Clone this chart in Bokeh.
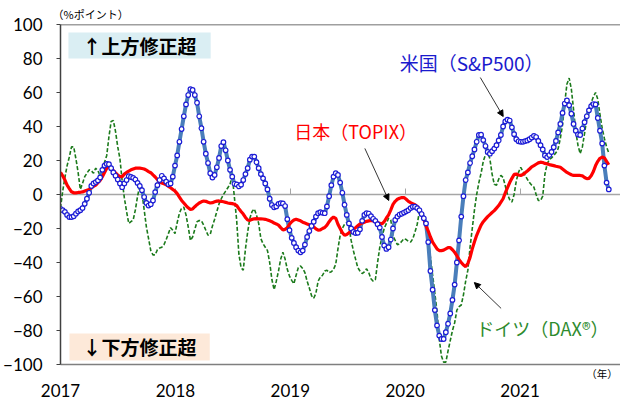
import pandas as pd
from bokeh.plotting import figure
from bokeh.models import (Range1d, FixedTicker, Span, BoxAnnotation, Label, Arrow,
                          NormalHead, LinearAxis, ColumnDataSource)
from bokeh.embed import file_html
from bokeh.resources import INLINE

# ---------------- data (weekly, from 2017-01-01) ----------------
start_date = "2017-01-01"
years = [2017, 2018, 2019, 2020, 2021]
y_ticks = [-100, -80, -60, -40, -20, 0, 20, 40, 60, 80, 100]

sp500 = [
    -8.4, -9.2, -10.2, -12, -13.3, -13.3, -12.8, -11.3, -10, -9.2,
    -8, -5.5, -2.5, 1, 5, 6.5, 7.3, 8.3, 10, 14.5,
    17, 18, 17.8, 15.5, 13, 11, 8.8, 6.5, 4.3, 6.5,
    8.5, 10.8, 10.3, 9.8, 8.8, 6.8, 5, 2.5, -1.5, -5,
    -6.5, -5.7, -3.5, 1.4, 5.5, 8.5, 11, 9.5, 7.5, 6,
    6.5, 10.5, 17, 23, 31, 38.5, 46, 53, 58.5, 62,
    61.5, 58.5, 54, 46, 39, 31, 24, 18.5, 12.5, 10,
    11.5, 16, 21.5, 28.5, 30.8, 26, 20, 14.5, 10.5, 6.3,
    5.9, 4.8, 5.8, 8.5, 12, 15.5, 20.5, 22.3, 22.3, 19,
    15.5, 12, 9.5, 6.5, 3, -2.5, -6.2, -7.5, -7, -5.5,
    -5.1, -5.3, -6.8, -14.5, -21, -25.5, -28.5, -31, -33, -34,
    -33, -29.5, -25, -21.5, -18.5, -16, -13, -11, -10.4, -10.8,
    -11, -7, -1, 5.5, 10.5, 12.5, 11.5, 7, 1, -6,
    -12, -17, -20, -22, -22.7, -22.5, -20.5, -15.5, -12, -11,
    -11.2, -12.8, -14.3, -15.5, -17.5, -19.5, -25, -30, -32, -31,
    -26.5, -20, -15, -13, -11.8, -11.3, -10.6, -9.9, -9.2, -8,
    -7.2, -7.2, -8, -9.2, -11.5, -14, -17, -28, -45, -56,
    -68, -77, -83, -85, -85, -81, -76, -70, -62, -53,
    -40, -27, -13, -1, 8.5, 13, 18.5, 22.5, 26.5, 31,
    35, 35.2, 32, 28.5, 25, 24, 25.5, 27, 29, 31.8,
    35, 40, 43, 44, 43.5, 39.5, 35.5, 32.5, 31.3, 31,
    31, 31.4, 31.8, 32.5, 33.5, 34.5, 33.8, 31.5, 29, 26.5,
    23, 22, 23.2, 25, 27.8, 31.5, 36.5, 41.5, 48, 53.5,
    55.3, 52.5, 47.5, 41.5, 37.5, 35.3, 35, 38.8, 42.5, 46,
    49.5, 52, 53.2, 53, 45, 37.5, 30, 17, 7, 3,
]

topix = [
    13, 11, 8.5, 5.5, 3.5, 1.6, 1, 1, 1.2, 1.3,
    1.5, 2, 2.5, 3, 4, 4.8, 5.5, 7, 8.3, 10.5,
    13, 15.5, 16.5, 15.2, 14, 12.6, 11.5, 10.5, 10.5, 12,
    13, 13.8, 14.5, 15, 15.5, 15.5, 15.5, 15.3, 15, 14.3,
    13.5, 12.8, 11.5, 10.3, 8.8, 7.3, 6.8, 6.3, 5.8, 4.8,
    4, 3, 2, 0.5, -1.5, -3.5, -5, -6.5, -7.8, -8.8,
    -8.5, -7.2, -6, -5, -4.3, -3.8, -4, -4.6, -5, -4.8,
    -4.3, -3.9, -3.8, -4, -4.3, -4.6, -5, -5.2, -5.4, -5.7,
    -6.5, -8.3, -10, -11.5, -13.5, -15, -15.2, -14.6, -14.3, -14.2,
    -14.3, -14.3, -14.4, -14.6, -15, -15.5, -16, -16.8, -17.3, -18,
    -19.5, -20.8, -20.5, -19.5, -17.5, -16, -15, -14.5, -15, -15.5,
    -16.3, -16.8, -17.3, -17.8, -18.2, -19, -20.2, -21, -20.8, -20,
    -19.4, -18, -16, -14.3, -13.3, -14, -17.5, -20, -22.5, -24,
    -23.5, -22.5, -21.4, -20.5, -19.5, -18.4, -17.3, -16.8, -16.3, -15.8,
    -15.5, -15.3, -15.5, -16, -16.5, -17, -17.3, -16, -13.8, -12,
    -9, -5.8, -4, -2.8, -2.2, -1.8, -1.8, -2.8, -4, -4.8,
    -5.5, -6, -7, -9, -11.5, -14.5, -18.5, -21.5, -25, -28,
    -30, -32, -33, -33, -32.7, -32, -31.3, -31.2, -32.5, -34,
    -36, -38.3, -40, -41.5, -42.4, -40.5, -37, -32, -27.8, -24,
    -21, -18, -16, -14.5, -13, -11.8, -10.6, -9.5, -8, -6.5,
    -4.5, -2.5, 1, 4, 7, 9.5, 11.8, 12, 11.5, 11.2,
    11.8, 12.8, 13.8, 15, 16.3, 17, 17.8, 18.6, 19, 18.8,
    18.3, 18, 17.6, 17.3, 17, 16.6, 16.3, 16, 15, 14,
    13, 12.3, 11.6, 11.2, 11.2, 11.3, 11.2, 11, 10, 9.3,
    9.5, 11, 13.5, 17, 19.5, 21.3, 22, 21.5, 19.5, 17.5,
]

dax = [
    -8, 2, 10, 17, 22, 28, 28, 21, 13, 3,
    6.5, 10.5, 12.5, 14.5, 14, 12.5, 15.5, 14, 11, 16,
    19, 23, 34, 43, 43.5, 37, 28, 21, 8, -2,
    -10, -17, -16, -15, -9, -1, 5, 1, -9, -19,
    -26, -33, -35.5, -35.5, -32.5, -31.5, -31, -29.5, -26.5, -23,
    -19.5, -21, -23, -16.5, -11, -8, -7.5, -12, -19, -27,
    -25, -20.5, -16, -15.3, -15.5, -18, -21, -24, -23.5, -18.5,
    -14.5, -10, -5.5, -2.5, 0, 2, 4, 6, 11, -2,
    -15, -35, -43, -44.5, -32, -22, -14, -10, -8.5, -12,
    -17, -26, -29, -31, -33, -40, -50, -56, -51, -45,
    -38, -34, -38, -44, -48, -50.5, -52.5, -47.5, -43, -42,
    -43.5, -46, -51, -55, -59.5, -61, -58, -51, -48.6, -47.5,
    -45, -44.5, -46, -45.5, -44, -41, -32, -24, -20, -17.5,
    -16.5, -19, -27, -33, -38, -43, -45, -46.5, -45.5, -43.7,
    -46, -49.5, -51, -50, -40, -31, -25, -20, -17, -14,
    -15, -24.5, -27, -29.5, -29, -27.5, -26, -26.5, -27.5, -28,
    -26, -22, -17.5, -10, -11, -12.5, -18, -26, -37, -47.5,
    -58, -69, -85, -95, -98.6, -98.6, -92, -86, -80, -75.5,
    -68, -66, -65, -59, -51, -44.5, -31, -20, -9, 0,
    7, 12.5, 19.5, 23.5, 25, 21, 12, 6, 5.5, 9,
    11.2, 10, 5, 0, -3, -4.5, 0, 8, 13, 16,
    13.5, 11.2, 9, 7, 5.5, 4.3, 0, -3.5, -3.5, -1,
    12, 18, 20.5, 21.5, 23, 24.5, 27, 33, 41, 54,
    65, 68.5, 62, 50, 37, 29, 24, 28, 36, 44.5,
    50, 54, 57.5, 60, 56, 47, 39, 33, 28, 24.5,
]

unit_label = "（%ポイント）"
year_label = "（年）"
year_label_pos = 2021.76

# ---------------- build ----------------
dates = pd.date_range(start_date, periods=len(sp500), freq="7D")
xs = 2017 + (dates - pd.Timestamp(start_date)).days / 365.25
src = ColumnDataSource(dict(x=list(xs), sp=sp500, tp=topix, dx=dax))

LAT = "Lato"
JP = "Noto Sans CJK JP"

p = figure(width=620, height=400, x_range=Range1d(2017, 2021.874),
           y_range=Range1d(-100, 100), output_backend="svg",
           toolbar_location=None, x_axis_location=None,
           min_border_left=57, min_border_right=0,
           min_border_top=24, min_border_bottom=36)
p.outline_line_color = None
p.grid.visible = False
p.background_fill_color = "white"
p.border_fill_color = "white"

# title = unit note above the frame
p.title.text = unit_label
p.title.text_font = JP
p.title.text_font_size = "11px"
p.title.text_font_style = "normal"
p.title.text_color = "black"
p.title.align = "left"
p.title.offset = -8
p.title.standoff = 5

# y axis
ya = p.yaxis[0]
ya.ticker = FixedTicker(ticks=y_ticks)
ya.major_tick_out = 4
ya.major_tick_in = 0
ya.minor_tick_line_color = None
ya.axis_line_color = "#404040"
ya.axis_line_width = 1.5
ya.major_tick_line_color = "#404040"
ya.major_label_text_font = LAT
ya.major_label_text_font_size = "17px"
ya.major_label_text_color = "black"
ya.major_label_standoff = 14

# first below axis: frame bottom border + "（年）" note
ua = LinearAxis(ticker=FixedTicker(ticks=[year_label_pos]),
                major_label_overrides={year_label_pos: year_label},
                major_tick_in=0, major_tick_out=0, major_label_standoff=1,
                axis_line_color="#7f7f7f", axis_line_width=1.5,
                major_tick_line_color=None, minor_tick_line_color=None,
                major_label_text_font=JP, major_label_text_font_size="10.5px",
                major_label_text_color="black")
p.add_layout(ua, "below")

# second below axis: year labels
xa = LinearAxis(ticker=FixedTicker(ticks=years),
                major_label_overrides={y: str(y) for y in years},
                major_tick_in=0, major_tick_out=0, major_label_standoff=0,
                axis_line_color=None, major_tick_line_color=None,
                minor_tick_line_color=None, major_label_text_font=LAT,
                major_label_text_font_size="17px", major_label_text_color="black")
p.add_layout(xa, "below")

# zero line axis with year ticks (no labels)
za = LinearAxis(fixed_location=0, ticker=FixedTicker(ticks=years),
                major_tick_in=6, major_tick_out=0,
                major_label_overrides={y: "" for y in years},
                major_label_standoff=0, axis_line_color="#a6a6a6", axis_line_width=1.5,
                major_tick_line_color="#a6a6a6", minor_tick_line_color=None)
za.level = "underlay"
p.add_layout(za, "below")

# top border
p.add_layout(Span(location=100, dimension="width", line_color="#404040", line_width=1.5))

# annotation boxes
p.add_layout(BoxAnnotation(left=2017.069, right=2018.307, top=95.3, bottom=80.0,
                           fill_color="#DAEEF3", fill_alpha=1, line_alpha=0, level="underlay"))
p.add_layout(BoxAnnotation(left=2017.078, right=2018.299, top=-81.8, bottom=-97.6,
                           fill_color="#FDE9D9", fill_alpha=1, line_alpha=0, level="underlay"))

# series
p.line("x", "dx", source=src, line_color="#1b7a1b", line_width=1.6, line_dash="4 2")
p.line("x", "sp", source=src, line_color="#4a7ebb", line_width=4)
p.line("x", "tp", source=src, line_color="#ff0000", line_width=3.2)
p.scatter("x", "sp", source=src, marker="circle", size=4.6, fill_color="white",
          line_color="#1c1cd6", line_width=1.2)

# texts
def lab(x, y, t, color="black", size="17px", align="left", bold=False, font=JP):
    p.add_layout(Label(x=x, y=y, text=t, text_color=color, text_font_size=size,
                       text_align=align, text_baseline="middle", text_font=font,
                       text_font_style="bold" if bold else "normal"))

lab(2017.688, 87.6, "↑上方修正超", size="19px", align="center", bold=True)
lab(2017.688, -89.6, "↓下方修正超", size="19px", align="center", bold=True)
lab(2019.952, 77.6, "米国（S&P500）", color="#1a1acd", size="19px")
lab(2019.035, 37.6, "日本（TOPIX）", color="#ff0000", size="18px")
lab(2020.619, -78.8, "ドイツ（DAX®）", color="#2e8b2e", size="18px")

# arrows
for xs0, ys0, xe, ye in [(2020.654, 68.8, 2020.853, 45.9),
                         (2019.649, 27.1, 2019.857, -3.5),
                         (2020.835, -67.0, 2020.602, -51.8)]:
    p.add_layout(Arrow(end=NormalHead(size=6, fill_color="black", line_color="black"),
                       x_start=xs0, y_start=ys0, x_end=xe, y_end=ye,
                       line_color="black", line_width=0.8))

open("out.html", "w").write(file_html(p, INLINE))
